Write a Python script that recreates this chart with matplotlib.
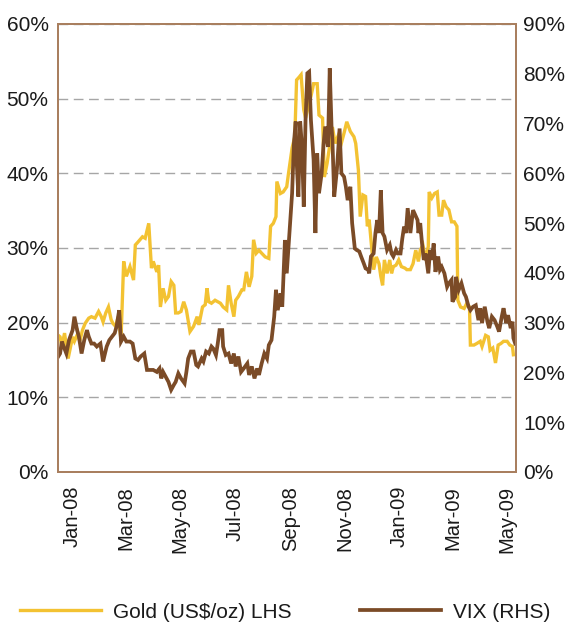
import matplotlib
matplotlib.use("Agg")
import matplotlib.pyplot as plt
import matplotlib.dates as mdates
import pandas as pd

plt.rcParams["font.family"] = ["Liberation Sans", "DejaVu Sans"]

# Gold volatility (%), left-hand scale
gold_dates = [
    "2007-12-17", "2007-12-19", "2007-12-21", "2007-12-24", "2007-12-28",
    "2008-01-02", "2008-01-04", "2008-01-08", "2008-01-10", "2008-01-13",
    "2008-01-16", "2008-01-20", "2008-01-23", "2008-01-27", "2008-01-31",
    "2008-02-03", "2008-02-05", "2008-02-08", "2008-02-11", "2008-02-14",
    "2008-02-16", "2008-02-19", "2008-02-22", "2008-02-25", "2008-02-28",
    "2008-03-02", "2008-03-06", "2008-03-10", "2008-03-12", "2008-03-15",
    "2008-03-20", "2008-03-23", "2008-03-27", "2008-03-30", "2008-04-01",
    "2008-04-05", "2008-04-07", "2008-04-09", "2008-04-12", "2008-04-15",
    "2008-04-18", "2008-04-21", "2008-04-24", "2008-04-26", "2008-04-29",
    "2008-05-02", "2008-05-05", "2008-05-08", "2008-05-12", "2008-05-16",
    "2008-05-20", "2008-05-22", "2008-05-26", "2008-05-29", "2008-05-31",
    "2008-06-02", "2008-06-05", "2008-06-09", "2008-06-15", "2008-06-18",
    "2008-06-22", "2008-06-24", "2008-06-27", "2008-06-30", "2008-07-02",
    "2008-07-05", "2008-07-09", "2008-07-11", "2008-07-14", "2008-07-17",
    "2008-07-20", "2008-07-22", "2008-07-25", "2008-07-28", "2008-07-31",
    "2008-08-04", "2008-08-08", "2008-08-10", "2008-08-13", "2008-08-16",
    "2008-08-17", "2008-08-21", "2008-08-24", "2008-08-28", "2008-08-30",
    "2008-09-03", "2008-09-06", "2008-09-08", "2008-09-11", "2008-09-13",
    "2008-09-16", "2008-09-18", "2008-09-21", "2008-09-24", "2008-09-27",
    "2008-10-01", "2008-10-03", "2008-10-07", "2008-10-09", "2008-10-12",
    "2008-10-16", "2008-10-18", "2008-10-21", "2008-10-24", "2008-10-27",
    "2008-10-31", "2008-11-03", "2008-11-07", "2008-11-11", "2008-11-13",
    "2008-11-16", "2008-11-18", "2008-11-21", "2008-11-24", "2008-11-26",
    "2008-11-28", "2008-11-30", "2008-12-03", "2008-12-06", "2008-12-09",
    "2008-12-11", "2008-12-13", "2008-12-15", "2008-12-18", "2008-12-21",
    "2008-12-23", "2008-12-25", "2008-12-28", "2008-12-31", "2009-01-03",
    "2009-01-07", "2009-01-09", "2009-01-13", "2009-01-16", "2009-01-19",
    "2009-01-22", "2009-01-24", "2009-01-27", "2009-01-30", "2009-02-02",
    "2009-02-03", "2009-02-06", "2009-02-09", "2009-02-12", "2009-02-14",
    "2009-02-17", "2009-02-19", "2009-02-22", "2009-02-25", "2009-02-28",
    "2009-03-03", "2009-03-06", "2009-03-07", "2009-03-10", "2009-03-14",
    "2009-03-17", "2009-03-20", "2009-03-21", "2009-03-25", "2009-03-28",
    "2009-04-01", "2009-04-03", "2009-04-07", "2009-04-10", "2009-04-12",
    "2009-04-15", "2009-04-18", "2009-04-21", "2009-04-24", "2009-04-27",
    "2009-05-01", "2009-05-04", "2009-05-07", "2009-05-08",
]
gold_vol = [
    18.3, 18.1, 16.8, 18.6, 15.2,
    18.1, 17.5, 18.6, 17.5, 19.0,
    19.9, 20.6, 20.8, 20.6, 21.5,
    20.8, 20.1, 21.3, 22.1, 20.4,
    19.9, 19.5, 20.8, 17.7, 28.2,
    26.2, 27.5, 25.7, 30.4, 30.8,
    31.5, 31.3, 33.3, 27.3, 28.2,
    26.8, 27.7, 22.1, 24.6, 23.0,
    23.5, 25.5, 25.0, 21.3, 21.3,
    21.5, 22.8, 21.7, 18.8, 19.5,
    20.8, 19.7, 22.1, 22.4, 24.6,
    22.8, 22.6, 23.0, 22.6, 22.1,
    21.7, 25.0, 22.6, 20.8, 23.0,
    23.5, 24.4, 24.4, 26.8, 24.8,
    26.2, 31.1, 29.3, 29.7, 29.3,
    28.8, 28.6, 32.9, 33.3, 34.2,
    38.9, 37.3, 37.5, 38.2, 40.0,
    43.4, 44.9, 52.5, 52.9, 53.2,
    48.5, 47.4, 48.9, 50.3, 52.0,
    52.0, 47.8, 47.4, 39.5, 41.3,
    44.5, 46.2, 44.0, 44.9, 43.6,
    45.4, 46.9, 45.6, 44.9, 44.0,
    40.4, 34.2, 37.1, 36.9, 32.9,
    33.8, 31.1, 27.1, 28.8, 27.9,
    26.2, 25.0, 28.4, 26.6, 28.4,
    26.6, 27.5, 27.7, 28.4, 27.5,
    27.3, 27.1, 27.1, 27.9, 29.7,
    28.2, 29.7, 30.4, 28.4, 30.2,
    37.5, 36.7, 37.3, 37.5, 34.4,
    34.4, 36.4, 35.5, 35.1, 33.5,
    33.5, 32.9, 23.0, 22.1, 21.9,
    22.6, 22.1, 17.0, 17.0, 17.2,
    17.5, 16.8, 18.3, 18.1, 16.3,
    16.6, 14.6, 17.0, 17.2, 17.5,
    17.5, 17.0, 16.8, 15.7,
]

# VIX (%), right-hand scale
vix_dates = [
    "2007-12-17", "2007-12-19", "2007-12-21", "2007-12-23", "2007-12-26",
    "2007-12-29", "2008-01-02", "2008-01-04", "2008-01-07", "2008-01-09",
    "2008-01-12", "2008-01-15", "2008-01-18", "2008-01-20", "2008-01-23",
    "2008-01-26", "2008-01-29", "2008-02-02", "2008-02-05", "2008-02-09",
    "2008-02-12", "2008-02-15", "2008-02-18", "2008-02-20", "2008-02-23",
    "2008-02-25", "2008-02-28", "2008-03-02", "2008-03-06", "2008-03-09",
    "2008-03-12", "2008-03-15", "2008-03-18", "2008-03-22", "2008-03-25",
    "2008-03-28", "2008-04-01", "2008-04-05", "2008-04-08", "2008-04-10",
    "2008-04-12", "2008-04-15", "2008-04-18", "2008-04-21", "2008-04-24",
    "2008-04-26", "2008-04-29", "2008-05-02", "2008-05-06", "2008-05-08",
    "2008-05-10", "2008-05-13", "2008-05-16", "2008-05-19", "2008-05-21",
    "2008-05-25", "2008-05-27", "2008-05-30", "2008-06-02", "2008-06-05",
    "2008-06-07", "2008-06-10", "2008-06-12", "2008-06-14", "2008-06-17",
    "2008-06-18", "2008-06-21", "2008-06-24", "2008-06-27", "2008-06-30",
    "2008-07-02", "2008-07-05", "2008-07-08", "2008-07-11", "2008-07-15",
    "2008-07-17", "2008-07-20", "2008-07-23", "2008-07-26", "2008-07-28",
    "2008-07-31", "2008-08-03", "2008-08-06", "2008-08-08", "2008-08-11",
    "2008-08-14", "2008-08-16", "2008-08-18", "2008-08-21", "2008-08-23",
    "2008-08-26", "2008-08-28", "2008-08-30", "2008-09-01", "2008-09-03",
    "2008-09-05", "2008-09-07", "2008-09-08", "2008-09-10", "2008-09-12",
    "2008-09-14", "2008-09-16", "2008-09-18", "2008-09-20", "2008-09-22",
    "2008-09-24", "2008-09-27", "2008-09-29", "2008-10-01", "2008-10-03",
    "2008-10-06", "2008-10-08", "2008-10-10", "2008-10-13", "2008-10-15",
    "2008-10-17", "2008-10-18", "2008-10-20", "2008-10-23", "2008-10-26",
    "2008-10-28", "2008-10-31", "2008-11-02", "2008-11-04", "2008-11-07",
    "2008-11-09", "2008-11-12", "2008-11-14", "2008-11-17", "2008-11-19",
    "2008-11-22", "2008-11-24", "2008-11-27", "2008-11-28", "2008-11-30",
    "2008-12-03", "2008-12-05", "2008-12-07", "2008-12-09", "2008-12-11",
    "2008-12-13", "2008-12-15", "2008-12-18", "2008-12-21", "2008-12-23",
    "2008-12-25", "2008-12-28", "2008-12-30", "2009-01-02", "2009-01-04",
    "2009-01-06", "2009-01-08", "2009-01-10", "2009-01-13", "2009-01-16",
    "2009-01-21", "2009-01-22", "2009-01-24", "2009-01-26", "2009-01-28",
    "2009-01-30", "2009-02-02", "2009-02-04", "2009-02-06", "2009-02-08",
    "2009-02-10", "2009-02-13", "2009-02-15", "2009-02-17", "2009-02-20",
    "2009-02-23", "2009-02-25", "2009-02-28", "2009-03-01", "2009-03-04",
    "2009-03-05", "2009-03-08", "2009-03-11", "2009-03-14", "2009-03-16",
    "2009-03-19", "2009-03-21", "2009-03-24", "2009-03-27", "2009-03-30",
    "2009-04-01", "2009-04-03", "2009-04-06", "2009-04-09", "2009-04-11",
    "2009-04-14", "2009-04-17", "2009-04-20", "2009-04-22", "2009-04-25",
    "2009-04-27", "2009-04-30", "2009-05-02", "2009-05-05", "2009-05-07",
    "2009-05-08", "2009-05-10",
]
vix_level = [
    23.2, 23.8, 26.2, 25.2, 23.8,
    26.5, 28.5, 31.2, 28.5, 27.2,
    23.8, 26.5, 28.5, 27.2, 25.8,
    25.8, 25.2, 25.8, 22.2, 25.2,
    26.5, 27.2, 27.9, 29.2, 32.5,
    26.2, 27.2, 26.2, 26.2, 25.8,
    22.8, 22.5, 23.2, 23.8, 20.5,
    20.5, 20.5, 20.1, 20.8, 18.8,
    20.1, 19.1, 18.1, 16.5, 17.5,
    18.1, 19.8, 18.8, 17.8, 20.1,
    22.8, 24.2, 24.2, 21.5, 21.2,
    22.8, 22.2, 24.2, 23.8, 25.2,
    24.8, 23.5, 25.8, 28.5, 28.5,
    25.2, 23.5, 23.8, 21.8, 23.8,
    21.2, 23.2, 20.1, 20.8, 21.8,
    19.5, 21.2, 18.8, 20.8, 19.5,
    21.8, 23.8, 22.8, 25.5, 26.5,
    31.2, 36.6, 32.5, 35.9, 33.2,
    46.6, 39.9, 45.3, 50.6, 56.0,
    66.0, 70.4, 62.7, 55.3, 70.4,
    65.3, 53.3, 70.7, 80.1, 80.4,
    70.7, 62.7, 48.0, 64.0, 56.0,
    60.0, 65.7, 69.4, 65.3, 81.1,
    69.4, 66.7, 55.3, 60.7, 69.0,
    60.0, 59.3, 57.3, 54.6, 57.3,
    50.0, 44.9, 44.6, 44.3, 43.3,
    41.9, 40.9, 40.6, 39.9, 43.3,
    43.9, 48.0, 50.6, 48.0, 56.6,
    48.0, 47.3, 44.6, 45.6, 43.9,
    43.3, 44.6, 43.9, 43.9, 46.9,
    49.3, 48.0, 53.0, 48.0, 52.6,
    50.6, 48.0, 50.0, 45.9, 42.6,
    43.9, 39.9, 44.6, 42.6, 45.9,
    40.2, 43.3, 40.6, 41.2, 39.9,
    37.2, 37.9, 38.6, 34.2, 35.2,
    39.2, 36.6, 37.9, 35.9, 35.2,
    33.2, 32.5, 33.2, 33.5, 30.5,
    32.9, 29.9, 33.2, 30.2, 28.9,
    31.2, 30.5, 29.2, 28.2, 31.2,
    32.9, 29.9, 31.5, 28.9, 30.2,
    26.9, 25.8,
]

tick_months = ["2008-01-01", "2008-03-01", "2008-05-01", "2008-07-01", "2008-09-01",
               "2008-11-01", "2009-01-01", "2009-03-01", "2009-05-01"]
left_ticks = [0, 10, 20, 30, 40, 50, 60]
right_ticks = [0, 10, 20, 30, 40, 50, 60, 70, 80, 90]

GOLD = "#F3C232"
VIX = "#7B4B27"
FRAME = "#A97F5F"
TEXT = "#1A1A1A"

fig = plt.figure(figsize=(5.68, 6.24), dpi=100)
ax = fig.add_axes([0.1026, 0.2436, 0.806, 0.718])
ax2 = ax.twinx()

g_line, = ax.plot(pd.to_datetime(gold_dates), gold_vol, color=GOLD, lw=2.4,
                  solid_joinstyle="miter", label="Gold (US$/oz) LHS")
v_line, = ax2.plot(pd.to_datetime(vix_dates), vix_level, color=VIX, lw=2.7,
                   solid_joinstyle="miter", label="VIX (RHS)")

ax.set_xlim(pd.Timestamp("2007-12-17"), pd.Timestamp("2009-05-11"))
ax.set_ylim(0, 60)
ax2.set_ylim(0, 90)

ax.set_yticks(left_ticks)
ax.set_yticklabels([f"{t}%" for t in left_ticks])
ax2.set_yticks(right_ticks)
ax2.set_yticklabels([f"{t}%" for t in right_ticks])

ax.set_xticks(pd.to_datetime(tick_months))
ax.xaxis.set_major_formatter(mdates.DateFormatter("%b-%y"))

ax.tick_params(axis="x", length=0, pad=10, labelsize=14.5, labelrotation=90,
               labelcolor=TEXT)
ax.tick_params(axis="y", length=0, pad=7, labelsize=15, labelcolor=TEXT)
ax2.tick_params(axis="y", length=0, pad=5, labelsize=15, labelcolor=TEXT)

ax.set_axisbelow(True)
ax.yaxis.grid(True, color="#A6A6A6", lw=1.0, linestyle=(0, (7, 4)))

for a in (ax, ax2):
    for s in a.spines.values():
        s.set_color(FRAME)
        s.set_linewidth(1.4)

fig.legend(handles=[g_line, v_line], loc="center left",
           bbox_to_anchor=(20 / 568, 12 / 624), ncol=2, frameon=False,
           fontsize=15, handlelength=3.9, handletextpad=0.55,
           columnspacing=3.3, borderpad=0, borderaxespad=0,
           labelcolor=TEXT)

fig.savefig("out.png", dpi=100)
